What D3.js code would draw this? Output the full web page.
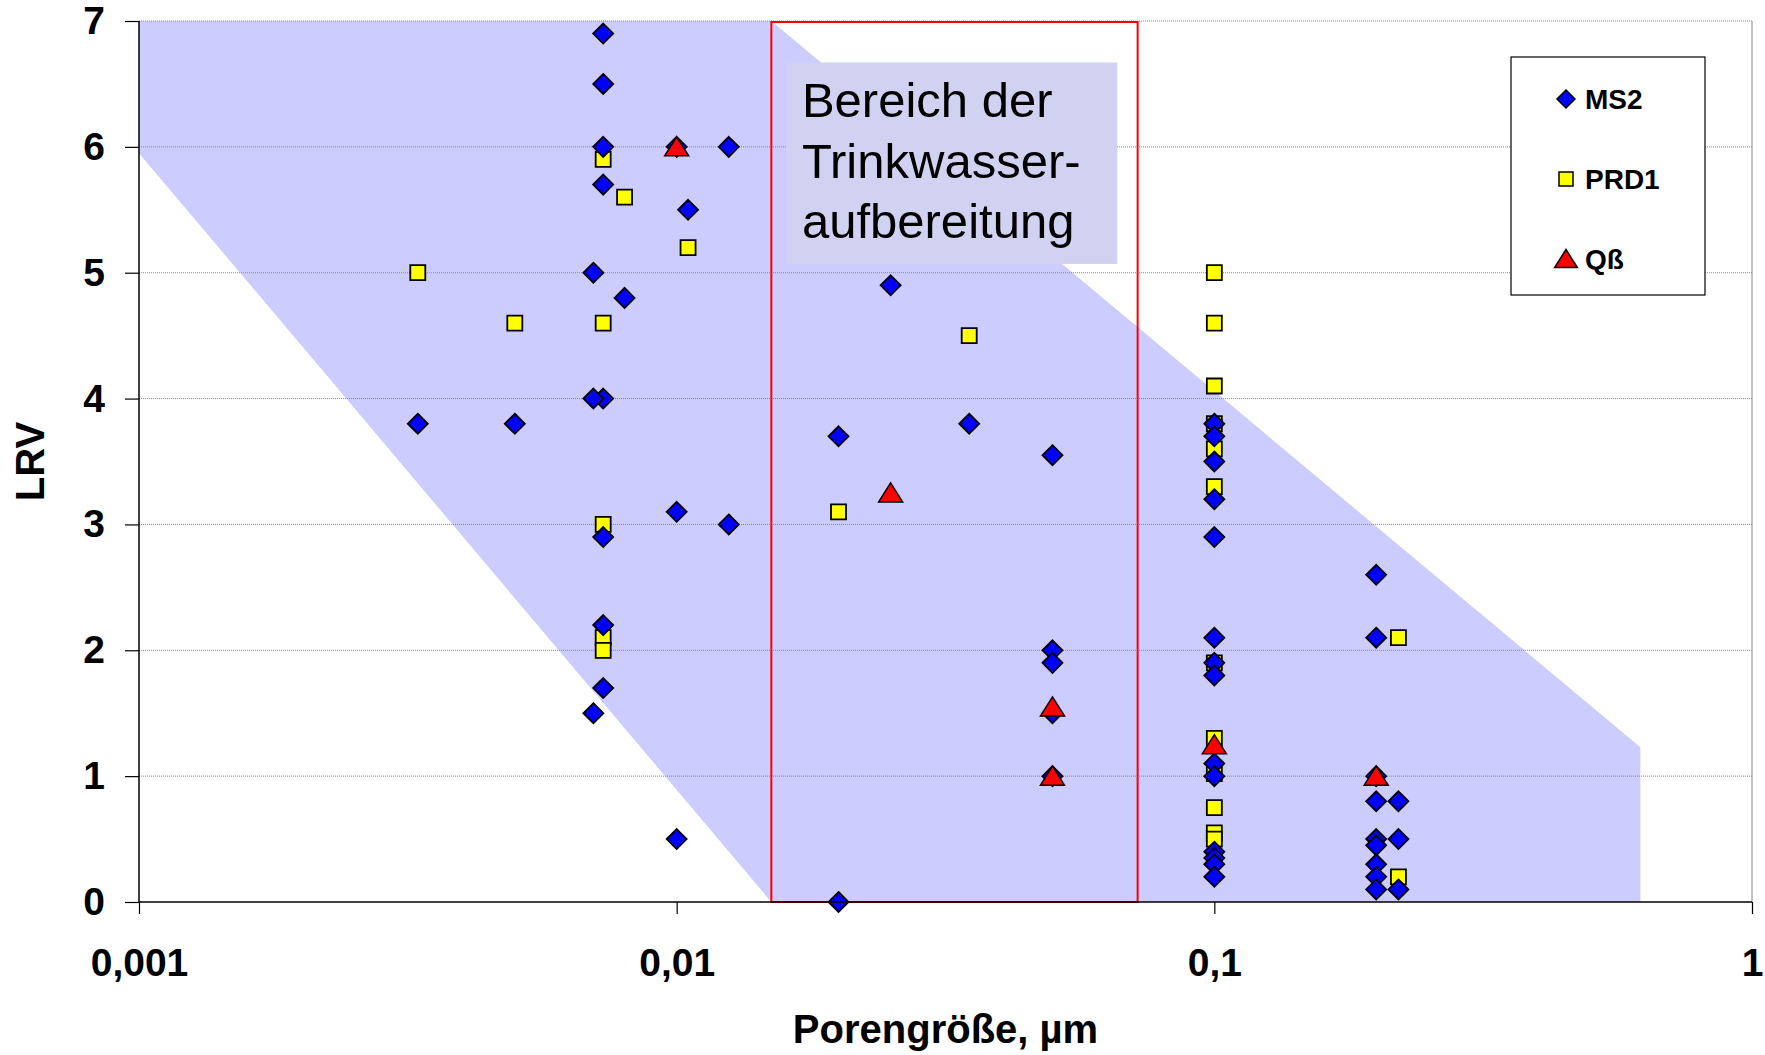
<!DOCTYPE html>
<html>
<head>
<meta charset="utf-8">
<script src="https://cdn.jsdelivr.net/npm/d3@7"></script>
<style>
  body { margin: 0; background: #fff; }
  svg { display: block; font-family: "Liberation Sans", Arial, sans-serif; }
</style>
</head>
<body>
<svg width="1765" height="1055"></svg>
<script>
// values: [pore size in µm, LRV]
var ms2 = [
  [0.0073, 6.9], [0.0073, 6.5], [0.0073, 6.0], [0.0073, 5.7], [0.0073, 4.0],
  [0.0073, 2.9], [0.0073, 2.2], [0.0073, 1.7],
  [0.007, 5.0], [0.007, 4.0], [0.007, 1.5],
  [0.008, 4.8], [0.0033, 3.8], [0.005, 3.8],
  [0.01, 6.0], [0.01, 3.1], [0.01, 0.5], [0.0105, 5.5],
  [0.0125, 6.0], [0.0125, 3.0],
  [0.02, 3.7], [0.02, 0.0], [0.025, 4.9], [0.035, 3.8],
  [0.05, 3.55], [0.05, 2.0], [0.05, 1.9], [0.05, 1.5], [0.05, 1.0],
  [0.1, 3.8], [0.1, 3.7], [0.1, 3.5], [0.1, 3.2], [0.1, 2.9], [0.1, 2.1],
  [0.1, 1.9], [0.1, 1.8], [0.1, 1.1], [0.1, 1.0], [0.1, 0.4], [0.1, 0.35],
  [0.1, 0.3], [0.1, 0.2],
  [0.2, 2.6], [0.2, 2.1], [0.2, 1.0], [0.2, 0.8], [0.2, 0.5], [0.2, 0.45],
  [0.2, 0.3], [0.2, 0.2], [0.2, 0.1],
  [0.22, 0.8], [0.22, 0.5], [0.22, 0.1]
];
var prd1 = [
  [0.0033, 5.0], [0.005, 4.6], [0.0073, 4.6], [0.0073, 5.9], [0.008, 5.6],
  [0.0105, 5.2], [0.0073, 3.0], [0.0073, 2.1], [0.0073, 2.0],
  [0.02, 3.1], [0.035, 4.5],
  [0.1, 5.0], [0.1, 4.6], [0.1, 4.1], [0.1, 3.8], [0.1, 3.6], [0.1, 3.3],
  [0.1, 1.9], [0.1, 1.3], [0.1, 1.02], [0.1, 0.75], [0.1, 0.55], [0.1, 0.5],
  [0.1, 0.35],
  [0.22, 2.1], [0.22, 0.2]
];
var qbeta = [
  [0.01, 6.0], [0.025, 3.25], [0.05, 1.55], [0.05, 1.0], [0.1, 1.25], [0.2, 1.0]
];

// shaded range and drinking-water box
var band = [[0.001, 7], [0.015, 7], [0.62, 1.23], [0.62, 0], [0.015, 0], [0.001, 5.95]];
var boxRange = [0.015, 0.072];
var boxLines = ["Bereich der", "Trinkwasser-", "aufbereitung"];

var xTicks = [0.001, 0.01, 0.1, 1];
var xTickLabels = ["0,001", "0,01", "0,1", "1"];
var yTicks = [0, 1, 2, 3, 4, 5, 6, 7];
var seriesNames = ["MS2", "PRD1", "Qß"];

var svg = d3.select("svg"),
    margin = {top: 21, right: 13, bottom: 153, left: 139},
    width = svg.attr("width") - margin.left - margin.right,
    height = svg.attr("height") - margin.top - margin.bottom;

var x = d3.scaleLog().domain([0.001, 1]).range([0, width]),
    y = d3.scaleLinear().domain([0, 7]).range([height, 0]);

var g = svg.append("g")
    .attr("transform", "translate(" + margin.left + "," + margin.top + ")");

// marker shapes
function diamond(s) { return "M0," + (-s) + "L" + s + ",0L0," + s + "L" + (-s) + ",0Z"; }
function square(s) { return "M" + (-s) + "," + (-s) + "h" + 2 * s + "v" + 2 * s + "h" + (-2 * s) + "Z"; }
function triangle(s) { return "M0," + (-s) + "L" + (s * 1.2) + "," + (s * 0.9) + "L" + (-s * 1.2) + "," + (s * 0.9) + "Z"; }

// band
g.append("path")
    .datum(band)
    .attr("fill", "#ccccff")
    .attr("d", d3.line().x(function(d) { return x(d[0]); }).y(function(d) { return y(d[1]); }));

// grid lines
g.append("g").selectAll("line")
  .data(yTicks.slice(1))
  .enter().append("line")
    .attr("x1", 0).attr("x2", width)
    .attr("y1", function(d) { return y(d); })
    .attr("y2", function(d) { return y(d); })
    .attr("stroke", "#888")
    .attr("stroke-width", 1)
    .attr("stroke-dasharray", "1,1");

// plot border right
g.append("line")
    .attr("x1", width).attr("x2", width).attr("y1", 0).attr("y2", height)
    .attr("stroke", "#888");

// text box
g.append("rect")
    .attr("x", x(0.016)).attr("y", y(6.67))
    .attr("width", x(0.066) - x(0.016)).attr("height", y(5.07) - y(6.67))
    .attr("fill", "#d1d1f1");

g.append("text")
    .attr("font-size", 49)
    .selectAll("tspan")
    .data(boxLines)
    .enter().append("tspan")
      .attr("x", x(0.0171))
      .attr("y", function(d, i) { return 96 + 60.5 * i; })
      .text(function(d) { return d; });

// red box
g.append("rect")
    .attr("x", x(boxRange[0])).attr("y", y(7) + 1)
    .attr("width", x(boxRange[1]) - x(boxRange[0]))
    .attr("height", y(0) - y(7) - 1)
    .attr("fill", "none")
    .attr("stroke", "#ff0000")
    .attr("stroke-width", 2);

// points
function pos(d) { return "translate(" + x(d[0]) + "," + y(d[1]) + ")"; }

g.append("g").selectAll("path")
  .data(prd1)
  .enter().append("path")
    .attr("transform", pos)
    .attr("d", square(7.5))
    .attr("fill", "#ffff00").attr("stroke", "#000").attr("stroke-width", 1.8);

g.append("g").selectAll("path")
  .data(ms2)
  .enter().append("path")
    .attr("transform", pos)
    .attr("d", diamond(10))
    .attr("fill", "#0000ff").attr("stroke", "#000").attr("stroke-width", 1.8);

g.append("g").selectAll("path")
  .data(qbeta)
  .enter().append("path")
    .attr("transform", pos)
    .attr("d", triangle(10))
    .attr("fill", "#ff0000").attr("stroke", "#000").attr("stroke-width", 1.5);

// axes
var xAxis = g.append("g")
    .attr("transform", "translate(0," + height + ")")
    .call(d3.axisBottom(x).tickValues(xTicks)
      .tickFormat(function(d, i) { return xTickLabels[i]; })
      .tickSize(12).tickPadding(34));

var yAxis = g.append("g")
    .call(d3.axisLeft(y).tickValues(yTicks).tickFormat(d3.format("d"))
      .tickSize(14).tickPadding(20));

[xAxis, yAxis].forEach(function(a) {
  a.select(".domain").attr("stroke", "#000").attr("stroke-width", 1.5);
  a.selectAll(".tick line").attr("stroke", "#000").attr("stroke-width", 1.2);
  a.selectAll("text")
    .attr("fill", "#000")
    .style("font-family", "'Liberation Sans', Arial, sans-serif")
    .style("font-size", "39px")
    .style("font-weight", "bold");
});
yAxis.select(".domain").attr("d", "M0," + height + "V0");
xAxis.select(".domain").attr("d", "M0,0H" + width);

// axis titles
svg.append("text")
    .attr("x", margin.left + width / 2)
    .attr("y", 1043)
    .attr("text-anchor", "middle")
    .attr("font-size", 40).attr("font-weight", "bold")
    .text("Porengröße, µm");

svg.append("text")
    .attr("transform", "translate(44," + (margin.top + height / 2) + ") rotate(-90)")
    .attr("text-anchor", "middle")
    .attr("font-size", 40).attr("font-weight", "bold")
    .text("LRV");

// legend
var legend = svg.append("g").attr("transform", "translate(1511,57)");
legend.append("rect")
    .attr("width", 194).attr("height", 238)
    .attr("fill", "#fff").attr("stroke", "#000").attr("stroke-width", 1.2);

var legendShapes = [
  {d: diamond(9), fill: "#0000ff"},
  {d: square(7), fill: "#ffff00"},
  {d: triangle(9.5), fill: "#ff0000"}
];
var item = legend.selectAll(".item")
  .data(seriesNames)
  .enter().append("g")
    .attr("transform", function(d, i) { return "translate(55," + (42 + i * 80) + ")"; });

item.append("path")
    .attr("d", function(d, i) { return legendShapes[i].d; })
    .attr("fill", function(d, i) { return legendShapes[i].fill; })
    .attr("stroke", "#000").attr("stroke-width", 1.5);

item.append("text")
    .attr("x", 19).attr("dy", "0.35em")
    .attr("font-size", 28).attr("font-weight", "bold")
    .text(function(d) { return d; });
</script>
</body>
</html>
